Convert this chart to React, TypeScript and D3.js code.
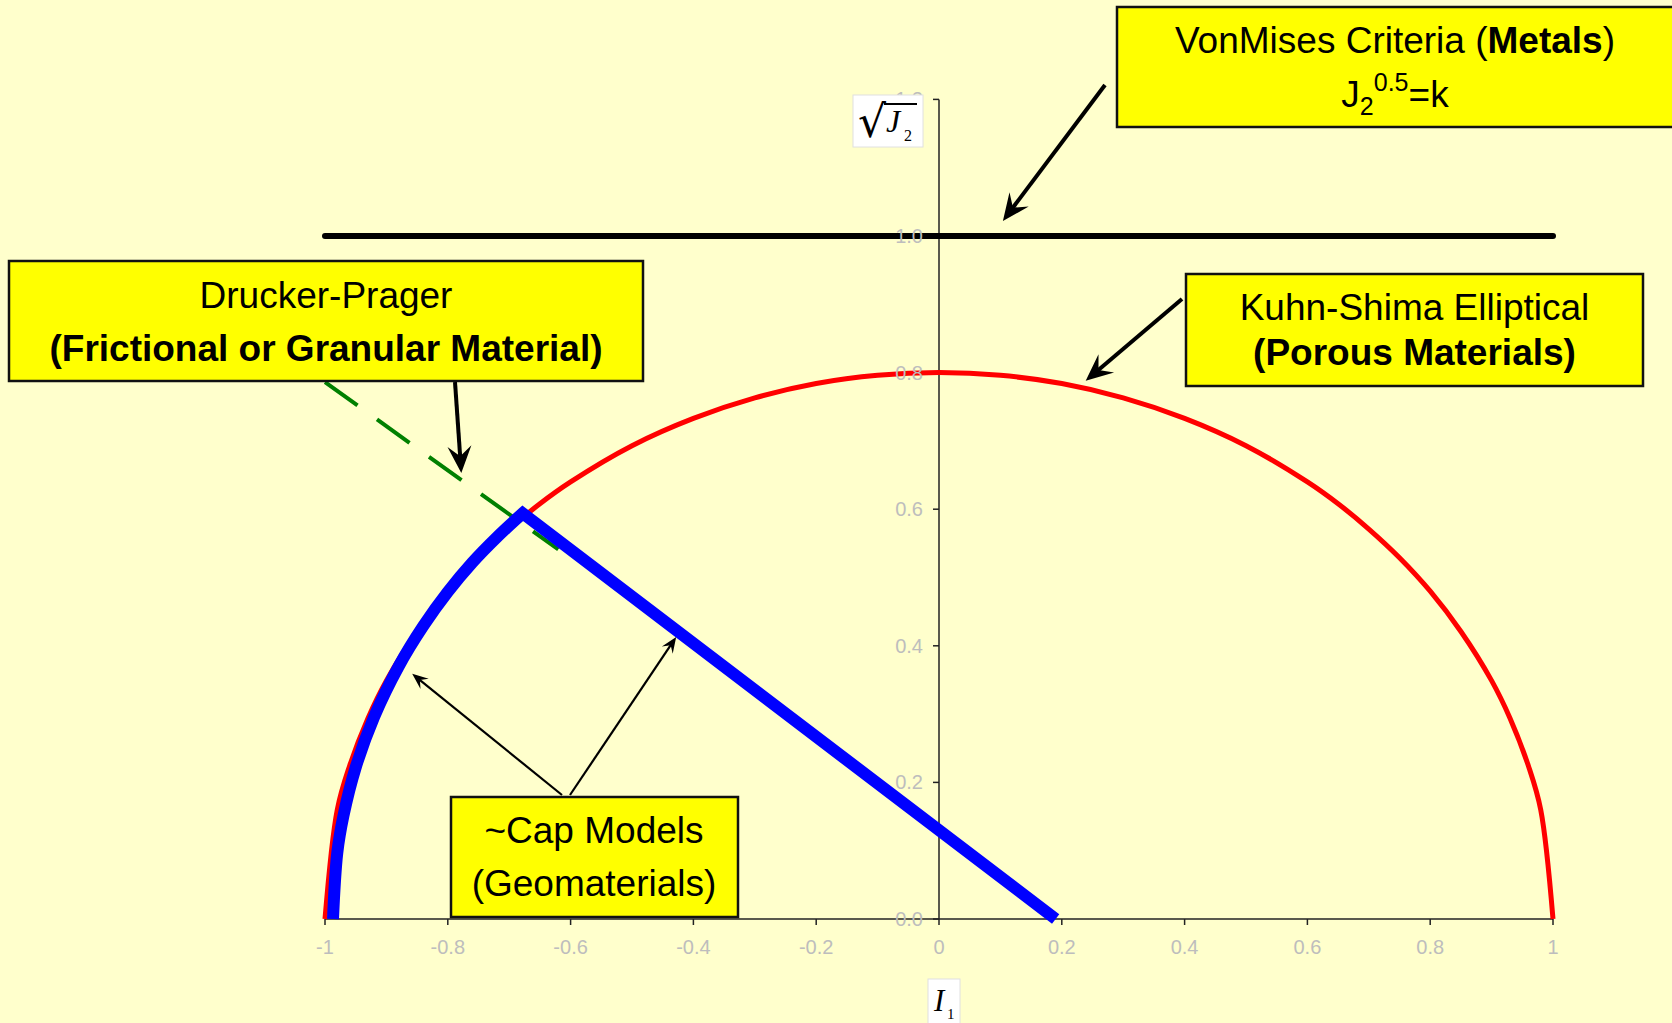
import React from "react";
import * as d3 from "d3";

// ---------- data ----------
const xTicks = [-1, -0.8, -0.6, -0.4, -0.2, 0, 0.2, 0.4, 0.6, 0.8, 1];
const xTickLabels = ["-1", "-0.8", "-0.6", "-0.4", "-0.2", "0", "0.2", "0.4", "0.6", "0.8", "1"];
const yTicks = [0, 0.2, 0.4, 0.6, 0.8, 1.0, 1.2];
const yTickLabels = ["0.0", "0.2", "0.4", "0.6", "0.8", "1.0", "1.2"];

// Kuhn-Shima elliptical surface (red)
const kuhnX = [-1, -0.98, -0.96, -0.93, -0.9, -0.85, -0.8, -0.75, -0.7, -0.65, -0.6, -0.5, -0.4, -0.3, -0.2, -0.1, 0, 0.1, 0.2, 0.3, 0.4, 0.5, 0.6, 0.65, 0.7, 0.75, 0.8, 0.85, 0.9, 0.93, 0.96, 0.98, 1];
const kuhnY = [0, 0.16, 0.224, 0.294, 0.349, 0.421, 0.48, 0.529, 0.571, 0.608, 0.64, 0.693, 0.733, 0.763, 0.784, 0.796, 0.8, 0.796, 0.784, 0.763, 0.733, 0.693, 0.64, 0.608, 0.571, 0.529, 0.48, 0.421, 0.349, 0.294, 0.224, 0.16, 0];

// Cap model (blue): cap arc then the straight segment down to the I1 axis
const capArcX = [-0.987, -0.98, -0.97, -0.95, -0.92, -0.88, -0.84, -0.8, -0.76, -0.72, -0.678];
const capArcY = [0, 0.097, 0.151, 0.222, 0.296, 0.37, 0.429, 0.479, 0.522, 0.559, 0.594];
const capLineX = [-0.678, 0.19];
const capLineY = [0.594, 0];

// Drucker-Prager line (green dashed)
const dpX = [-1, -0.62];
const dpY = [0.786, 0.541];

// Von Mises (black)
const vmX = [-1, 1];
const vmY = [1, 1];

// ---------- layout ----------
const W = 1672;
const H = 1023;
const FONT = "'Liberation Sans', Arial, sans-serif";
const SERIF = "'Liberation Serif', 'Times New Roman', serif";

const x = d3.scaleLinear().domain([-1, 1]).range([325, 1553]);
const y = d3.scaleLinear().domain([0, 1.2]).range([919, 99.4]);

function arrowHead(tx: number, ty: number, fx: number, fy: number, L: number, w: number) {
  const a = Math.atan2(ty - fy, tx - fx);
  const c = Math.cos(a), s = Math.sin(a);
  const p = (u: number, v: number) => [tx + u * c - v * s, ty + u * s + v * c];
  const pts = [p(0, 0), p(-L, w), p(-L * 0.62, 0), p(-L, -w)];
  return "M" + pts.map((q) => q[0].toFixed(1) + "," + q[1].toFixed(1)).join("L") + "Z";
}

function Arrow({ fx, fy, tx, ty, sw, L, w }: any) {
  const a = Math.atan2(ty - fy, tx - fx);
  const ex = tx - Math.cos(a) * L * 0.6;
  const ey = ty - Math.sin(a) * L * 0.6;
  return (
    <g>
      <line x1={fx} y1={fy} x2={ex} y2={ey} stroke="#000" strokeWidth={sw} />
      <path d={arrowHead(tx, ty, fx, fy, L, w)} fill="#000" />
    </g>
  );
}

export default function App() {
  const lineGen = d3.line<[number, number]>().x((d) => x(d[0])).y((d) => y(d[1]));
  const smooth = d3
    .line<[number, number]>()
    .x((d) => x(d[0]))
    .y((d) => y(d[1]))
    .curve(d3.curveCatmullRom.alpha(0.5));

  const kuhnPts = kuhnX.map((v, i) => [v, kuhnY[i]] as [number, number]);
  const capArcPts = capArcX.map((v, i) => [v, capArcY[i]] as [number, number]);
  const capD = (smooth(capArcPts) || "") + `L${x(capLineX[1])},${y(capLineY[1])}`;
  const dpPts = dpX.map((v, i) => [v, dpY[i]] as [number, number]);
  const vmPts = vmX.map((v, i) => [v, vmY[i]] as [number, number]);

  const x0 = x(0);
  const y0 = y(0);

  const boxStyle = { fill: "#FFFF00", stroke: "#111", strokeWidth: 2.5 };

  return (
    <svg width={W} height={H} style={{ position: "absolute", left: 0, top: 0, display: "block" }}>
      <rect x={0} y={0} width={W} height={H} fill="#FFFFCC" />

      {/* axes */}
      <line x1={x(-1)} y1={y0} x2={x(1)} y2={y0} stroke="#222" strokeWidth={1.5} />
      <line x1={x0} y1={y(0)} x2={x0} y2={y(1.2)} stroke="#222" strokeWidth={1.5} />
      {xTicks.map((t) => (
        <line key={"xt" + t} x1={x(t)} x2={x(t)} y1={y0} y2={y0 + 6} stroke="#222" strokeWidth={1.5} />
      ))}
      {yTicks.map((t) => (
        <line key={"yt" + t} x1={x0 - 6} x2={x0} y1={y(t)} y2={y(t)} stroke="#222" strokeWidth={1.5} />
      ))}

      {/* series */}
      <path d={smooth(kuhnPts) || ""} fill="none" stroke="#FF0000" strokeWidth={5} />
      <path d={lineGen(dpPts) || ""} fill="none" stroke="#008000" strokeWidth={4} strokeDasharray="40 24" />
      <path d={capD} fill="none" stroke="#0000FF" strokeWidth={12} strokeLinejoin="miter" strokeMiterlimit={10} />
      <path d={lineGen(vmPts) || ""} fill="none" stroke="#000" strokeWidth={6} strokeLinecap="round" />

      {/* tick labels */}
      {xTicks.map((t, i) => (
        <text key={"xl" + t} x={x(t)} y={y0 + 35} textAnchor="middle" fontFamily={FONT} fontSize={20} fill="#BDBDBD">
          {xTickLabels[i]}
        </text>
      ))}
      {yTicks.map((t, i) => (
        <text key={"yl" + t} x={x0 - 16} y={y(t) + 7} textAnchor="end" fontFamily={FONT} fontSize={20} fill="#BDBDBD">
          {yTickLabels[i]}
        </text>
      ))}

      {/* axis title boxes */}
      <rect x={853} y={95} width={70} height={52} fill="#FFFFFF" stroke="#E0E0E0" strokeWidth={1} />
      <text x={858} y={137} fontFamily="'DejaVu Serif', serif" fontSize={44} fill="#000">√</text>
      <line x1={884} x2={917} y1={104} y2={104} stroke="#000" strokeWidth={1.8} />
      <text x={886} y={132} fontFamily={SERIF} fontStyle="italic" fontSize={32} fill="#000">J</text>
      <text x={904} y={141} fontFamily={SERIF} fontSize={16} fill="#000">2</text>

      <rect x={928} y={979} width={32} height={50} fill="#FFFFFF" stroke="#E0E0E0" strokeWidth={1} />
      <text x={934} y={1011} fontFamily={SERIF} fontStyle="italic" fontSize={31} fill="#000">I</text>
      <text x={947} y={1019} fontFamily={SERIF} fontSize={15} fill="#000">1</text>

      {/* annotation boxes */}
      <rect x={1117} y={7} width={570} height={120} {...boxStyle} />
      <text x={1395} y={53} textAnchor="middle" fontFamily={FONT} fontSize={37} fill="#000">
        VonMises Criteria (<tspan fontWeight="bold">Metals</tspan>)
      </text>
      <text x={1395} y={107} textAnchor="middle" fontFamily={FONT} fontSize={37} fill="#000">
        J<tspan fontSize={25} dy={8}>2</tspan><tspan fontSize={25} dy={-24}>0.5</tspan><tspan dy={16}>=k</tspan>
      </text>

      <rect x={9} y={261} width={634} height={120} {...boxStyle} />
      <text x={326} y={308} textAnchor="middle" fontFamily={FONT} fontSize={37} fill="#000">Drucker-Prager</text>
      <text x={326} y={361} textAnchor="middle" fontFamily={FONT} fontSize={37} fontWeight="bold" fill="#000">(Frictional or Granular Material)</text>

      <rect x={1186} y={274} width={457} height={112} {...boxStyle} />
      <text x={1414.5} y={320} textAnchor="middle" fontFamily={FONT} fontSize={37} fill="#000">Kuhn-Shima Elliptical</text>
      <text x={1414.5} y={365} textAnchor="middle" fontFamily={FONT} fontSize={37} fontWeight="bold" fill="#000">(Porous Materials)</text>

      <rect x={451} y={797} width={287} height={120} {...boxStyle} />
      <text x={594} y={843} textAnchor="middle" fontFamily={FONT} fontSize={37} fill="#000">~Cap Models</text>
      <text x={594} y={896} textAnchor="middle" fontFamily={FONT} fontSize={37} fill="#000">(Geomaterials)</text>

      {/* arrows */}
      <Arrow fx={1105} fy={85} tx={x(0.104)} ty={y(1.022)} sw={4} L={27} w={12} />
      <Arrow fx={1182} fy={299} tx={x(0.239)} ty={y(0.788)} sw={4} L={27} w={12} />
      <Arrow fx={455} fy={382} tx={x(-0.778)} ty={y(0.653)} sw={4} L={27} w={12} />
      <Arrow fx={562} fy={795} tx={x(-0.858)} ty={y(0.359)} sw={2.2} L={16} w={6.5} />
      <Arrow fx={570} fy={795} tx={x(-0.428)} ty={y(0.413)} sw={2.2} L={16} w={6.5} />
    </svg>
  );
}
